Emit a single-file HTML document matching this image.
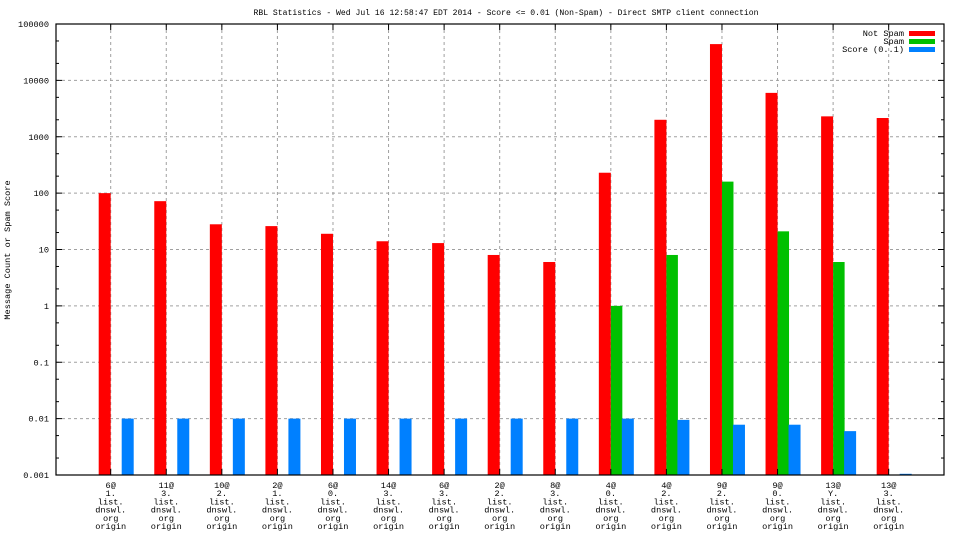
<!DOCTYPE html>
<html><head><meta charset="utf-8"><style>
html,body{margin:0;padding:0;background:#fff;width:960px;height:540px;overflow:hidden}
svg text{font-family:"Liberation Mono",monospace;font-size:8.6px;fill:#000}
</style></head><body>
<svg id="chart" width="960" height="540" xmlns="http://www.w3.org/2000/svg">
<rect width="960" height="540" fill="#fff"/>
<text x="506" y="15" text-anchor="middle" textLength="505" lengthAdjust="spacingAndGlyphs">RBL Statistics - Wed Jul 16 12:58:47 EDT 2014 - Score &lt;= 0.01 (Non-Spam) - Direct SMTP client connection</text>
<text transform="translate(10,250) rotate(-90)" text-anchor="middle">Message Count or Spam Score</text>
<g id="grid"></g><g id="bars"></g><g id="axes"></g>
<g>
<text x="904" y="36" text-anchor="end">Not Spam</text><rect x="909" y="31" width="26" height="5" fill="#ff0000"/>
<text x="904" y="44" text-anchor="end">Spam</text><rect x="909" y="39" width="26" height="5" fill="#00c000"/>
<text x="904" y="52" text-anchor="end">Score (0..1)</text><rect x="909" y="47" width="26" height="5" fill="#0080ff"/>
</g>
</svg>
<script>
const categories=["6@","11@","10@","2@","6@","14@","6@","2@","8@","4@","4@","9@","9@","13@","13@"];
const subLabels=["1.","3.","2.","1.","0.","3.","3.","2.","3.","0.","2.","2.","0.","Y.","3."];
const notSpam=[100,72,28,26,19,14,13,8,6,230,2000,44000,6000,2300,2150];
const spam=[0,0,0,0,0,0,0,0,0,1,8,160,21,6,0];
const score=[0.01,0.01,0.01,0.01,0.01,0.01,0.01,0.01,0.01,0.01,0.0095,0.0078,0.0078,0.006,0.00105];
const yTicks=["0.001","0.01","0.1","1","10","100","1000","10000","100000"];
const NS="http://www.w3.org/2000/svg";
const L=56,R=944,T=24,B=475,yMin=-3,yMax=5;
function y(v){return B-(Math.log10(v)-yMin)/(yMax-yMin)*(B-T);}
function x(i){return 110.7+i*55.57;}
function mk(tag,attrs,parent){const e=document.createElementNS(NS,tag);for(const k in attrs)e.setAttribute(k,attrs[k]);parent.appendChild(e);return e;}
const grid=document.getElementById('grid'),bars=document.getElementById('bars'),axes=document.getElementById('axes');
yTicks.forEach((t,i)=>{const v=parseFloat(t),yy=y(v);
 if(i>0&&i<yTicks.length-1){const g=mk('line',{x1:L,x2:R,y1:yy,y2:yy,stroke:'#a0a0a0','stroke-dasharray':'3,3'},grid);
 
 }
 const tx=mk('text',{x:49,y:yy+3,'text-anchor':'end'},axes);tx.textContent=t;
 
 
 mk('line',{x1:L,x2:L+6,y1:yy,y2:yy,stroke:'#000'},axes);mk('line',{x1:R,x2:R-6,y1:yy,y2:yy,stroke:'#000'},axes);
 if(i<yTicks.length-1){[2,5].forEach(m=>{const my=y(v*m);mk('line',{x1:L,x2:L+3,y1:my,y2:my,stroke:'#000'},axes);mk('line',{x1:R,x2:R-3,y1:my,y2:my,stroke:'#000'},axes);});}
});
categories.forEach((c,i)=>{const xx=x(i);
 const g=mk('line',{x1:xx,x2:xx,y1:T,y2:B,stroke:'#a0a0a0','stroke-dasharray':'3,3'},grid);
 
 
 mk('line',{x1:xx,x2:xx,y1:B,y2:B-6,stroke:'#000'},axes);mk('line',{x1:xx,x2:xx,y1:T,y2:T+6,stroke:'#000'},axes);
 const lines=[c,subLabels[i],"list.","dnswl.","org","origin"];
 const t=mk('text',{x:xx,y:488,'text-anchor':'middle'},axes);
 
 
 lines.forEach((s,j)=>{const ts=mk('tspan',{x:xx,y:488+j*8.2},t);ts.textContent=s;});
 const series=[[notSpam[i],-12,12,'#ff0000','bar-not-spam'],[spam[i],0,11.5,'#00c000','bar-spam'],[score[i],11,12,'#0080ff','bar-score']];
 series.forEach(s=>{if(s[0]>0.001){const top=y(s[0]);
  const r=mk('rect',{x:xx+s[1],y:top,width:s[2],height:Math.max(1,B-top),fill:s[3]},bars);
  
  }});
});
mk('rect',{x:L,y:T,width:R-L,height:B-T,fill:'none',stroke:'#000','stroke-width':1.2},axes);
</script>
</body></html>
